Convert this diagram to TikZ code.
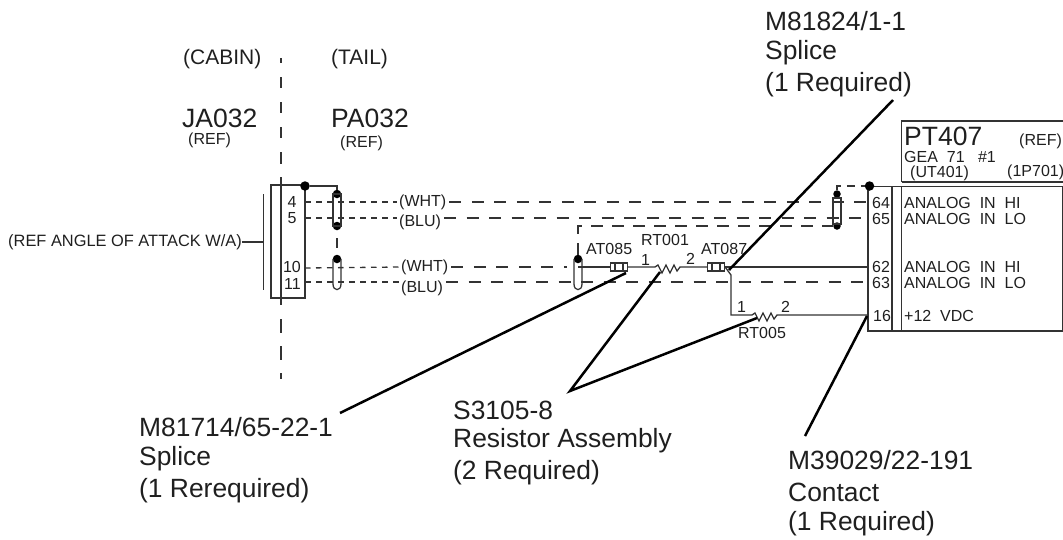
\documentclass[tikz,border=0pt]{standalone}
\usepackage{fontspec}
\setmainfont{Liberation Sans}
\tikzset{
 lbl/.style={inner sep=0pt,anchor=west,text=black!88},
 big/.style={lbl,font=\fontsize{26.4}{26.4}\selectfont},
 huge/.style={lbl,font=\fontsize{26.5}{26.5}\selectfont},
 med/.style={lbl,font=\fontsize{21}{21}\selectfont},
 sml/.style={lbl,font=\fontsize{16}{16}\selectfont},
 wire/.style={line width=1.3pt,draw=black!80},
 dwire/.style={wire,dash pattern=on 12pt off 10.5pt},
 swire/.style={wire,dash pattern=on 5.5pt off 5.5pt},
 leader/.style={line width=2.5pt,draw=black},
 dot/.style={circle,fill=black,inner sep=0pt,minimum size=9.5pt},
 sdot/.style={dot,minimum size=8.5pt},
 splice/.style={draw=black!80,line width=1.2pt,minimum width=17pt,minimum height=8pt,inner sep=0pt},
}
\begin{document}
\begin{tikzpicture}[x=1pt,y=-1pt]
\useasboundingbox (0,0) rectangle (1063,539);
% connector boxes
\draw[wire] (271,185) rectangle (305,298);
\draw[wire] (281,58) -- (281,63) (281,77) -- (281,88) (281,102) -- (281,113) (281,127) -- (281,138) (281,152) -- (281,164);
\draw[wire] (281,177) -- (281,305) (281,319) -- (281,333) (281,346) -- (281,360) (281,373) -- (281,379);
\coordinate (ra) at (263.5,194);\coordinate (rb) at (263.5,290);\coordinate (rc) at (263.5,242);
\draw[wire] (ra) -- (rb);
\node[lbl,font=\fontsize{16.4}{16.4}\selectfont] (refang) at (8,242) {(REF ANGLE OF ATTACK W/A)};
\draw[wire] (refang.east) -- (rc);
\draw[wire] (868,186.5) rectangle (1063,331);
\draw[wire] (892,186.5) -- (892,331) (901.5,186.5) -- (901.5,331);
\draw[wire] (901.5,182) -- (901.5,121) -- (1063,121) (901.5,182) -- (1063,182);
% dots
\node[dot] (d1) at (305,186) {};
\node[sdot] (s1t) at (337,194) {};
\node[sdot] (s1b) at (337,226) {};
\node[sdot] (s2t) at (337,259) {};
\node[sdot] (s3t) at (578,259) {};
\node[sdot,minimum size=7.5pt] (s4t) at (837,194) {};
\node[sdot,minimum size=7.5pt] (s4b) at (837,226) {};
\node[dot] (d2) at (869.5,186) {};
% shields
\draw[wire] (333,194) rectangle (341,226);
\draw[wire] (333,259) -- (333,284) .. controls (333,291.5) and (341,291.5) .. (341,284) -- (341,259);
\draw[wire] (574,259) -- (574,284) .. controls (574,291.5) and (582,291.5) .. (582,284) -- (582,259);
\draw[wire] (833,198) rectangle (841,224);
% shield links
\draw[wire] (d1) -- (337,186) -- (s1t);
\draw[wire] (337,238) -- (337,248);
\draw[wire,dash pattern=on 12pt off 9pt] (s3t) -- (578,226) -- (s4b);
\draw[wire,dash pattern=on 8pt off 6pt] (s4t) -- (837,186) -- (d2);
% pins left
\node[sml,anchor=center] (p4) at (292,202) {4};
\node[sml,anchor=center] (p5) at (292,218) {5};
\node[sml,anchor=east] (p10) at (301,267) {10};
\node[sml,anchor=east] (p11) at (301,284) {11};
% pins right
\node[sml] (p64) at (872,203) {64};
\node[sml] (p65) at (872,219) {65};
\node[sml] (p62) at (872,267) {62};
\node[sml] (p63) at (872,283) {63};
\node[sml] (p16) at (873,316) {16};
% wire labels
\node[sml] (w1) at (399,202) {(WHT)};
\node[sml] (b1) at (399,222) {(BLU)};
\node[sml] (w2) at (401,267) {(WHT)};
\node[sml] (b2) at (401,288) {(BLU)};
% wires
\coordinate (l4) at (305,202);\coordinate (l5) at (305,218);
\coordinate (l10) at (305,268);\coordinate (l11) at (305,282);
\coordinate (r64) at (868,202);\coordinate (r65) at (868,218);
\coordinate (r62) at (868,267);\coordinate (r63) at (868,282);\coordinate (r16) at (868,315);
\draw[swire] (l4) -- ([xshift=-2pt]w1.west);
\draw[swire] (l5) -- ([xshift=-2pt]b1.west |- l5);
\draw[dwire] ([xshift=3pt]w1.east) -- (r64);
\draw[dwire] ([xshift=3pt]b1.east |- l5) -- (r65);
\draw[swire] (l10) -- ([xshift=-2pt]w2.west);
\draw[swire] (l11) -- ([xshift=-2pt]b2.west |- l11);
\draw[dwire] ([xshift=3pt]w2.east) -- (567,267);
\draw[dwire] ([xshift=3pt]b2.east |- l11) -- (r63);
% splices
\node[splice] (at085) at (619,267) {};
\draw[wire] (615,263) -- (615,271) (623,263) -- (623,271);
\node[splice] (at087) at (716,267) {};
\draw[wire] (712,263) -- (712,271) (720,263) -- (720,271);
% resistors
\coordinate (r1a) at (655,267);\coordinate (r1b) at (680,267);
\coordinate (r2a) at (752,315);\coordinate (r2b) at (777,315);
\draw[wire] (578,267) -- (at085.west);
\draw[wire] (at085.east) -- (r1a) -- ++(3,-2) -- ++(4,8) -- ++(4,-8) -- ++(4,8) -- ++(4,-8) -- ++(3,6) -- (r1b) -- (at087.west);
\draw[wire] (at087.east) -- (r62);
\draw[wire] (at087.east) -- (731,275) -- (731,315) -- (r2a) -- ++(3,-2) -- ++(4,8) -- ++(4,-8) -- ++(4,8) -- ++(4,-8) -- ++(3,6) -- (r2b) -- (r16);
% component labels
\node[sml] (at85t) at (586,249) {AT085};
\node[sml] (rt1t) at (641,240) {RT001};
\node[sml] (at87t) at (701,249) {AT087};
\node[sml] (n1a) at (641,260) {1};
\node[sml] (n2a) at (686,259) {2};
\node[sml] (n1b) at (737,307) {1};
\node[sml] (n2b) at (781,307) {2};
\node[sml] (rt5t) at (738,333) {RT005};
% headings
\node[med] (cabin) at (183,59) {(CABIN)};
\node[med] (tail) at (331,59) {(TAIL)};
\node[huge] (ja) at (182,118) {JA032};
\node[huge] (pa) at (331,118) {PA032};
\node[sml] (jr) at (188,140) {(REF)};
\node[sml] (pr) at (340,143) {(REF)};
\node[huge] (pt) at (904,136) {PT407};
\node[sml] (ptr) at (1019,141) {(REF)};
\node[sml] (gea) at (904,157) {GEA\ \ 71\ \ \ \#1};
\node[sml] (ut) at (910,173) {(UT401)};
\node[sml] (p701) at (1007,172) {(1P701)};
\node[sml] (a1) at (904,203) {ANALOG\ \ IN\ \ HI};
\node[sml] (a2) at (904,219) {ANALOG\ \ IN\ \ LO};
\node[sml] (a3) at (904,267) {ANALOG\ \ IN\ \ HI};
\node[sml] (a4) at (904,283) {ANALOG\ \ IN\ \ LO};
\node[sml] (a5) at (904,316) {+12\ \ VDC};
% callouts
\node[big] (c1a) at (765,21) {M81824/1-1};
\node[big] (c1b) at (765,53) {Splice};
\node[big] (c1c) at (765,85) {(1 Required)};
\node[big] (c2a) at (139,427) {M81714/65-22-1};
\node[big] (c2b) at (139,459) {Splice};
\node[big] (c2c) at (139,491) {(1 Rerequired)};
\node[big] (c3a) at (453,410) {S3105-8};
\node[big] (c3b) at (453,441) {Resistor Assembly};
\node[big] (c3c) at (453,473) {(2 Required)};
\node[big] (c4a) at (788,460) {M39029/22-191};
\node[big] (c4b) at (788,492) {Contact};
\node[big] (c4c) at (788,524) {(1 Required)};
% leaders
\coordinate (c1s) at (893,100);\coordinate (c1e) at (729,270);
\coordinate (c2s) at (340,413);\coordinate (c2e) at (626,273);
\coordinate (c3s) at (570,391);\coordinate (c3e) at (660,272);\coordinate (c3f) at (757,318);
\coordinate (c4s) at (805,436);\coordinate (c4e) at (867,316);
\draw[leader] (c1s) -- (c1e);
\draw[leader] (c2s) -- (c2e);
\draw[leader] (c3e) -- (c3s) -- (c3f);
\draw[leader] (c4s) -- (c4e);
\end{tikzpicture}
\end{document}
